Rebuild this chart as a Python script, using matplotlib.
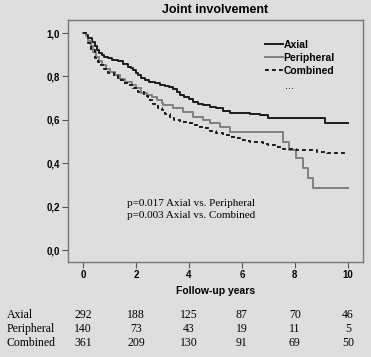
import numpy as np
import matplotlib.pyplot as plt
from matplotlib.lines import Line2D

# Kaplan-Meier step values (time in years, survival)
axial_t = [0, 0.1, 0.2, 0.33, 0.45, 0.52, 0.6, 0.7, 0.8, 0.96, 1.1, 1.33, 1.5, 1.71, 1.8, 1.9, 2.0,
           2.09, 2.2, 2.34, 2.5, 2.72, 2.9, 3.09, 3.25, 3.41, 3.55, 3.66, 3.8, 4.0, 4.16, 4.35,
           4.54, 4.8, 5.04, 5.3, 5.55, 6.3, 6.68, 6.99, 9.13, 10]
axial_s = [1.0, 0.99, 0.975, 0.96, 0.94, 0.92, 0.91, 0.90, 0.89, 0.883, 0.876, 0.871, 0.858, 0.845,
           0.838, 0.83, 0.818, 0.806, 0.795, 0.783, 0.775, 0.768, 0.762, 0.757, 0.75, 0.742, 0.73,
           0.714, 0.705, 0.695, 0.683, 0.675, 0.668, 0.66, 0.653, 0.64, 0.63, 0.627, 0.622, 0.607,
           0.587, 0.587]

periph_t = [0, 0.1, 0.2, 0.3, 0.39, 0.5, 0.6, 0.7, 0.85, 1.0, 1.2, 1.4, 1.6, 1.84, 2.0, 2.2, 2.4,
            2.6, 2.8, 2.97, 3.03, 3.41, 3.79, 4.16, 4.54, 4.8, 5.17, 5.55, 7.56, 7.78, 8.06, 8.31,
            8.5, 8.69, 10]
periph_s = [1.0, 0.985, 0.965, 0.94, 0.914, 0.89, 0.87, 0.853, 0.835, 0.82, 0.805, 0.79, 0.775,
            0.76, 0.745, 0.722, 0.715, 0.706, 0.69, 0.676, 0.668, 0.653, 0.637, 0.614, 0.60, 0.587,
            0.568, 0.545, 0.499, 0.461, 0.422, 0.376, 0.33, 0.284, 0.284]

comb_t = [0, 0.1, 0.2, 0.3, 0.45, 0.55, 0.64, 0.8, 0.96, 1.15, 1.33, 1.5, 1.71, 1.9, 2.09, 2.3,
          2.46, 2.65, 2.84, 2.97, 3.1, 3.28, 3.45, 3.66, 3.9, 4.16, 4.35, 4.54, 4.8, 5.04, 5.3,
          5.55, 5.75, 5.92, 6.1, 6.3, 6.8, 7.0, 7.25, 7.56, 8.06, 8.82, 9.2, 10]
comb_s = [1.0, 0.985, 0.955, 0.92, 0.883, 0.868, 0.853, 0.835, 0.814, 0.8, 0.783, 0.772, 0.76,
          0.745, 0.73, 0.71, 0.69, 0.672, 0.653, 0.645, 0.625, 0.607, 0.598, 0.591, 0.584, 0.576,
          0.568, 0.561, 0.55, 0.538, 0.53, 0.522, 0.515, 0.507, 0.503, 0.499, 0.491, 0.484, 0.476,
          0.464, 0.461, 0.453, 0.445, 0.445]

# numbers at risk
risk_years = [0, 2, 4, 6, 8, 10]
risk_groups = ['Axial', 'Peripheral', 'Combined']
risk_counts = [[292, 188, 125, 87, 70, 46],
               [140, 73, 43, 19, 11, 5],
               [361, 209, 130, 91, 69, 50]]

bg = '#dedede'
sans = 'Liberation Sans'
serif = 'Liberation Serif'
dash = (0, (2, 1.6))

fig = plt.figure(figsize=(3.71, 3.57), dpi=100, facecolor=bg)
ax = fig.add_axes([0.1833, 0.266, 0.7947, 0.678])
ax.set_facecolor(bg)

ax.step(axial_t, axial_s, where='post', color='#1a1a1a', lw=1.4)
ax.step(periph_t, periph_s, where='post', color='#808080', lw=1.4)
ax.step(comb_t, comb_s, where='post', color='#1a1a1a', lw=1.4, linestyle=dash)

ax.set_xlim(-0.57, 10.57)
ax.set_ylim(-0.055, 1.06)
ax.set_xticks(np.arange(0, 11, 2))
ax.set_yticks(np.arange(0, 1.01, 0.2))
ax.set_yticklabels([f'{v:.1f}'.replace('.', ',') for v in np.arange(0, 1.01, 0.2)])
for lab in ax.get_xticklabels() + ax.get_yticklabels():
    lab.set_fontfamily(sans)
    lab.set_fontweight('bold')
    lab.set_fontsize(7)
ax.tick_params(direction='out', length=4, width=0.8, color='#555555', pad=2)
for sp in ax.spines.values():
    sp.set_color('#777777')
    sp.set_linewidth(1.0)

ax.set_title('Joint involvement', fontfamily=sans, fontweight='bold', fontsize=9, pad=5)
ax.set_xlabel('Follow-up years', fontfamily=sans, fontweight='bold', fontsize=7.5, labelpad=4)

# legend
handles = [Line2D([], [], color='#1a1a1a', lw=1.4),
           Line2D([], [], color='#808080', lw=1.4),
           Line2D([], [], color='#1a1a1a', lw=1.4, linestyle=dash)]
ax.legend(handles, risk_groups, loc='upper right', bbox_to_anchor=(0.93, 0.948),
          frameon=False, handlelength=1.7, handletextpad=0.1, labelspacing=0.3,
          borderpad=0.2, prop={'family': sans, 'weight': 'bold', 'size': 7.5})
ax.text(0.75, 0.715, '...', transform=ax.transAxes, fontsize=8, fontfamily=sans,
        ha='center', va='baseline')

ax.text(0.2, 0.262, 'p=0.017 Axial vs. Peripheral\np=0.003 Axial vs. Combined',
        transform=ax.transAxes, fontfamily=serif, fontsize=8, va='top', linespacing=1.45)

# risk table under the axis
trans = ax.get_xaxis_transform()
row_y = [-0.22, -0.278, -0.336]
for name, counts, ry in zip(risk_groups, risk_counts, row_y):
    ax.text(-0.207, ry, name, transform=ax.transAxes, fontfamily=serif, fontsize=8.5,
            va='center', ha='left', clip_on=False)
    for yr, c in zip(risk_years, counts):
        ax.text(yr, ry, str(c), transform=trans, fontfamily=serif, fontsize=8.5,
                va='center', ha='center', clip_on=False)

fig.savefig('out.png', dpi=100, facecolor=bg)
